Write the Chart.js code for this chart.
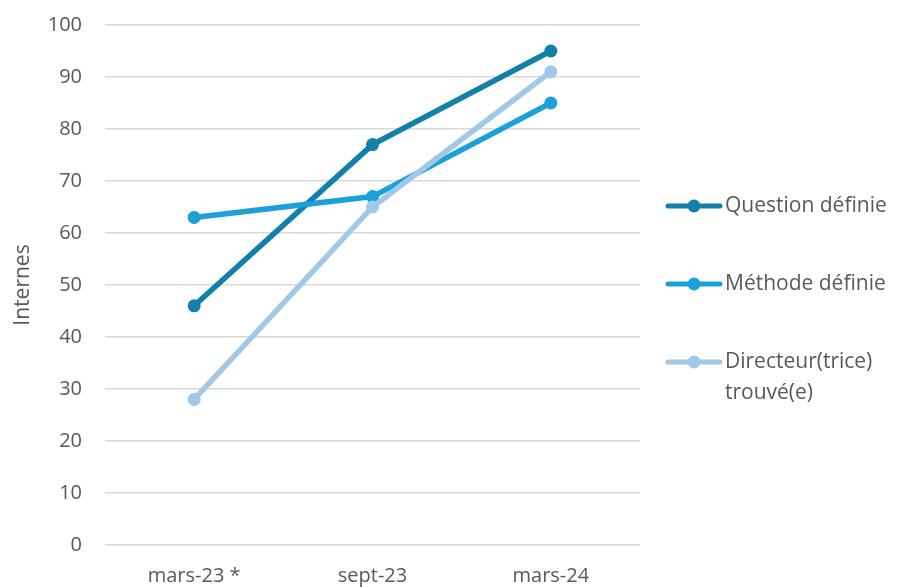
<!DOCTYPE html>
<html>
<head>
<meta charset="utf-8">
<script src="https://cdn.jsdelivr.net/npm/chart.js@4/dist/chart.umd.min.js"></script>
<style>
  html, body { margin: 0; padding: 0; background: #fff; }
  #wrap { width: 898px; height: 587px; }
</style>
</head>
<body>
<div id="wrap"><canvas id="myChart" width="898" height="587"></canvas></div>
<script>
// categories and values
var periods = ["mars-23 *", "sept-23", "mars-24"];
var questionDefinie = [46, 77, 95];
var methodeDefinie = [63, 67, 85];
var directeurTrouve = [28, 65, 91];
var seriesNames = ["Question définie", "Méthode définie", ["Directeur(trice)", "trouvé(e)"]];
var yTicks = [0, 10, 20, 30, 40, 50, 60, 70, 80, 90, 100];

var colors = ["#137fab", "#1ba0d7", "#a2c8e7"];
var fontFamily = "'Open Sans', 'Noto Sans', sans-serif";

// legend drawn by hand, on the right, like the original
var sideLegend = {
	id: 'sideLegend',
	afterDraw: function(chart) {
		var ctx = chart.ctx;
		var rows = [206, 284, 362];
		ctx.save();
		for (var i = 0; i < seriesNames.length; i++) {
			var y = rows[i];
			ctx.strokeStyle = colors[i];
			ctx.lineWidth = 5;
			ctx.lineCap = 'round';
			ctx.beginPath();
			ctx.moveTo(668, y);
			ctx.lineTo(720, y);
			ctx.stroke();
			ctx.fillStyle = colors[i];
			ctx.beginPath();
			ctx.arc(694, y, 6.5, 0, Math.PI * 2);
			ctx.fill();

			ctx.fillStyle = "#595959";
			ctx.font = "21px " + fontFamily;
			ctx.textBaseline = 'middle';
			ctx.textAlign = 'left';
			var lines = [].concat(seriesNames[i]);
			for (var j = 0; j < lines.length; j++) {
				ctx.fillText(lines[j], 725, y + j * 31);
			}
		}
		ctx.restore();
	}
};

var data = {
	labels: periods,
	datasets: [
		{ label: "Question définie", data: questionDefinie, borderColor: colors[0], backgroundColor: colors[0], order: 2 },
		{ label: "Méthode définie", data: methodeDefinie, borderColor: colors[1], backgroundColor: colors[1], order: 1 },
		{ label: "Directeur(trice) trouvé(e)", data: directeurTrouve, borderColor: colors[2], backgroundColor: colors[2], order: 0 }
	]
};

data.datasets.forEach(function(ds) {
	ds.borderWidth = 5.5;
	ds.pointRadius = 6.5;
	ds.pointBorderWidth = 0;
	ds.pointHoverRadius = 6.5;
	ds.tension = 0;
	ds.borderCapStyle = 'round';
});

new Chart(document.getElementById('myChart').getContext('2d'), {
	type: 'line',
	data: data,
	plugins: [sideLegend],
	options: {
		responsive: false,
		maintainAspectRatio: false,
		animation: false,
		layout: { padding: { top: 25, right: 258, left: 0, bottom: 0 } },
		plugins: {
			legend: { display: false },
			tooltip: { enabled: false }
		},
		scales: {
			x: {
				offset: true,
				grid: { display: false },
				border: { display: false },
				ticks: { color: "#595959", font: { family: fontFamily, size: 20 }, padding: 11 },
				afterFit: function(scale) {
					scale.height = 42;
					scale.paddingLeft = 0;
					scale.paddingRight = 0;
				}
			},
			y: {
				min: 0,
				max: 100,
				afterBuildTicks: function(scale) {
					scale.ticks = yTicks.map(function(v) { return { value: v }; });
				},
				grid: { color: "#d9d9d9", lineWidth: 1.5, drawTicks: false },
				border: { display: false },
				ticks: { color: "#595959", font: { family: fontFamily, size: 20 }, padding: 23 },
				title: {
					display: true,
					text: "Internes",
					color: "#595959",
					font: { family: fontFamily, size: 21 },
					padding: { top: 10, bottom: 0 }
				},
				afterFit: function(scale) {
					scale.width = 105;
					scale.paddingTop = 0;
					scale.paddingBottom = 0;
				}
			}
		}
	}
});
</script>
</body>
</html>
